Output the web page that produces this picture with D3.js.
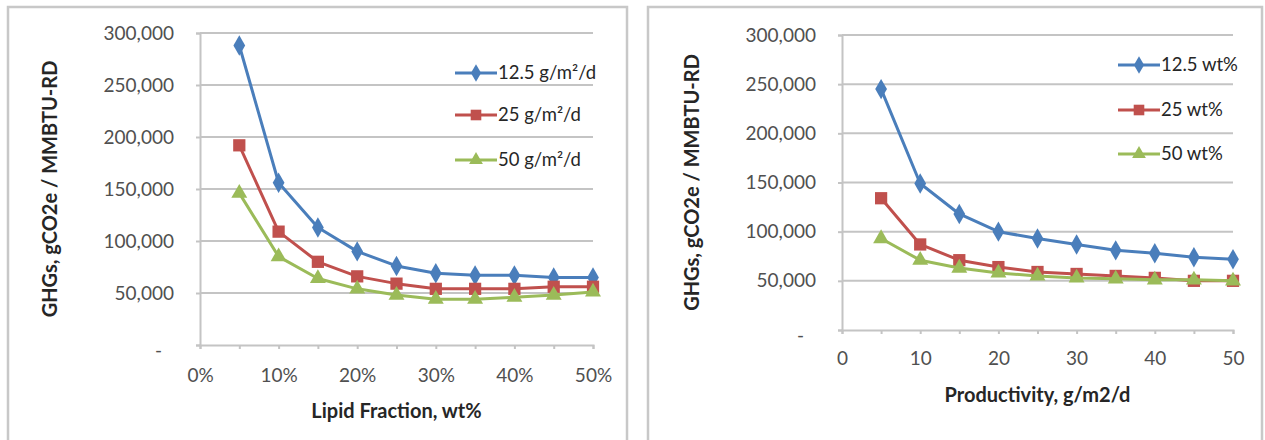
<!DOCTYPE html>
<html>
<head>
<meta charset="utf-8">
<script src="https://d3js.org/d3.v7.min.js"></script>
<style>
body {margin:0; background:#fff;}
svg text {font-family: Lato, 'Open Sans', sans-serif;}
.tick text {fill:#505050; font-size:19px;}
.title {font-weight:bold; font-size:20px; fill:#262626;}
.leg {font-size:18.5px; fill:#262626;}
</style>
</head>
<body>
<div id="chart"></div>
<script>
// left chart: GHGs vs lipid fraction (wt%), one series per productivity
var lipidX = [5, 10, 15, 20, 25, 30, 35, 40, 45, 50];
var lipidProd12 = [288000, 156000, 113000, 90000, 76000, 69000, 67000, 67000, 65000, 65000];
var lipidProd25 = [192000, 109000, 80000, 66000, 59000, 54000, 54000, 54000, 56000, 56000];
var lipidProd50 = [146000, 85000, 64000, 54000, 48000, 44000, 44000, 46000, 48000, 51000];
var lipidNames = ["12.5 g/m\u00b2/d", "25 g/m\u00b2/d", "50 g/m\u00b2/d"];

// right chart: GHGs vs productivity (g/m2/d), one series per lipid content
var prodX = [5, 10, 15, 20, 25, 30, 35, 40, 45, 50];
var prodLipid12 = [245000, 149000, 118000, 100000, 93000, 87000, 81000, 78000, 74000, 72000];
var prodLipid25 = [134000, 87000, 71000, 64000, 59000, 57000, 55000, 53000, 50000, 50000];
var prodLipid50 = [93000, 71000, 63000, 58000, 55000, 53000, 52000, 51000, 51000, 50000];
var prodNames = ["12.5 wt%", "25 wt%", "50 wt%"];

var yTicks = [0, 50000, 100000, 150000, 200000, 250000, 300000];
var colors = ["#4a7ebb", "#c0504d", "#9bbb59"];
var shapes = [d3.symbolDiamond, d3.symbolSquare, d3.symbolTriangle];
var symSize = [120, 150, 110];

var svg = d3.select("#chart").append("svg").attr("width", 1265).attr("height", 440);
svg.append("rect").attr("width", 1265).attr("height", 440).attr("fill", "#fff");

function drawPanel(p) {
  // panel frame
  svg.append("rect").attr("x", p.box[0]).attr("y", p.box[1]).attr("width", p.box[2]).attr("height", p.box[3])
    .attr("fill", "#fff").attr("stroke", "#c8c8c8").attr("stroke-width", 2.5);

  var x = d3.scaleLinear().domain([0, 50]).range([p.left, p.right]);
  var y = d3.scaleLinear().domain([0, 300000]).range([p.bottom, p.top]);
  var g = svg.append("g");

  // gridlines
  g.selectAll(".grid").data(yTicks.slice(1)).enter().append("line")
    .attr("x1", p.left).attr("x2", p.right)
    .attr("y1", function(d) { return y(d); }).attr("y2", function(d) { return y(d); })
    .attr("stroke", "#c4c4c4").attr("stroke-width", 2);

  // y axis
  var ya = g.append("g").attr("transform", "translate(" + p.left + ",0)")
    .call(d3.axisLeft(y).tickValues(yTicks).tickSize(4).tickPadding(p.yPad)
      .tickFormat(function(d) { return d === 0 ? "-" : d3.format(",")(d); }));
  ya.select(".domain").attr("stroke", "#c4c4c4").attr("stroke-width", 2);
  ya.selectAll(".tick line").attr("stroke", "#c4c4c4").attr("stroke-width", 2);
  ya.selectAll(".tick").filter(function(d) { return d === 0; }).select("text").attr("dx", -12).attr("dy", "0.6em");

  // x axis
  var xa = g.append("g").attr("transform", "translate(0," + p.bottom + ")")
    .call(d3.axisBottom(x).tickValues(d3.range(0, 51, 5)).tickSize(4).tickPadding(p.xPad)
      .tickFormat(function(d) { return d % 10 === 0 ? p.fmt(d) : ""; }));
  xa.select(".domain").attr("stroke", "#c4c4c4").attr("stroke-width", 2);
  xa.selectAll(".tick line").attr("stroke", "#c4c4c4").attr("stroke-width", 2);

  // series
  p.series.forEach(function(vals, i) {
    var pts = p.xs.map(function(v, j) { return [x(v), y(vals[j])]; });
    g.append("path").attr("d", d3.line()(pts)).attr("fill", "none")
      .attr("stroke", colors[i]).attr("stroke-width", 3).attr("stroke-linejoin", "round");
    g.selectAll(".m" + i).data(pts).enter().append("path")
      .attr("transform", function(d) { return "translate(" + d[0] + "," + d[1] + ")"; })
      .attr("d", d3.symbol().type(shapes[i]).size(symSize[i])).attr("fill", colors[i]);
  });

  // legend
  p.names.forEach(function(n, i) {
    var ly = p.legY[i];
    g.append("line").attr("x1", p.legX).attr("x2", p.legX + 42).attr("y1", ly).attr("y2", ly)
      .attr("stroke", colors[i]).attr("stroke-width", 3);
    g.append("path").attr("transform", "translate(" + (p.legX + 21) + "," + ly + ")")
      .attr("d", d3.symbol().type(shapes[i]).size(symSize[i] * 0.75)).attr("fill", colors[i]);
    g.append("text").attr("class", "leg").attr("x", p.legX + 43).attr("y", ly).attr("dy", "0.35em").text(n);
  });

  // axis titles
  g.append("text").attr("class", "title").attr("text-anchor", "middle")
    .attr("transform", "translate(" + p.yTitleX + "," + ((p.top + p.bottom) / 2) + ") rotate(-90)")
    .attr("dy", "0.35em").text("GHGs, gCO2e / MMBTU-RD");
  g.append("text").attr("class", "title").attr("text-anchor", "middle")
    .attr("x", (p.left + p.right) / 2).attr("y", p.xTitleY).text(p.xTitle);
}

drawPanel({
  box: [8, 7, 619, 450], left: 200, right: 593, top: 33, bottom: 345,
  xs: lipidX, series: [lipidProd12, lipidProd25, lipidProd50], names: lipidNames,
  fmt: function(d) { return d + "%"; }, yPad: 22, xPad: 20,
  legX: 455, legY: [73, 115, 160], yTitleX: 50, xTitleY: 418, xTitle: "Lipid Fraction, wt%"
});

drawPanel({
  box: [648, 7, 614, 450], left: 842, right: 1233, top: 35, bottom: 330,
  xs: prodX, series: [prodLipid12, prodLipid25, prodLipid50], names: prodNames,
  fmt: function(d) { return d; }, yPad: 22, xPad: 18,
  legX: 1118, legY: [65, 110, 154], yTitleX: 692, xTitleY: 402, xTitle: "Productivity, g/m2/d"
});
</script>
</body>
</html>
